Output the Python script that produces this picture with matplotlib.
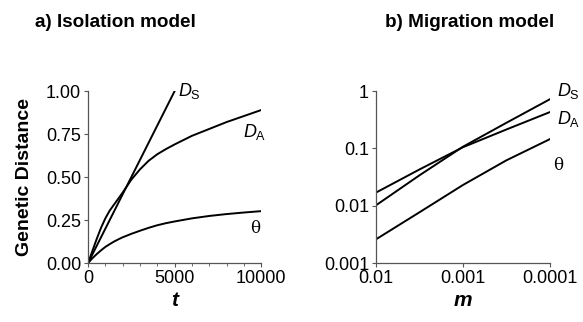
import numpy as np
import matplotlib.pyplot as plt

plt.rcParams['font.family'] = ['Liberation Sans', 'DejaVu Sans']
plt.rcParams['mathtext.fontset'] = 'custom'
plt.rcParams['mathtext.rm'] = 'Liberation Sans'
plt.rcParams['mathtext.it'] = 'Liberation Sans:italic'

# isolation model: distance vs time
t = [0, 250, 500, 750, 1000, 1250, 1500, 1750, 2000, 2500, 3000, 3500, 4000, 4500,
     5000, 6000, 7000, 8000, 9000, 10000]
ds_t = [0, 5000]
ds_iso = [0.0, 1.0]
da_iso = [0, 0.07, 0.14, 0.205, 0.26, 0.305, 0.34, 0.375, 0.41, 0.485, 0.545, 0.595,
          0.633, 0.663, 0.69, 0.74, 0.78, 0.82, 0.855, 0.89]
theta_iso = [0, 0.028, 0.052, 0.074, 0.094, 0.11, 0.125, 0.138, 0.15, 0.17, 0.188,
             0.205, 0.22, 0.232, 0.242, 0.26, 0.274, 0.285, 0.294, 0.302]

# migration model: distance vs migration rate
m = [0.01, 0.00316, 0.001, 0.000316, 0.0001]
ds_mig = [0.0102, 0.034, 0.107, 0.28, 0.72]
da_mig = [0.017, 0.043, 0.105, 0.214, 0.43]
theta_mig = [0.0026, 0.0077, 0.023, 0.062, 0.145]

fig = plt.figure(figsize=(5.83, 3.22), dpi=100)
ax1 = fig.add_axes([0.151, 0.183, 0.297, 0.534])
ax2 = fig.add_axes([0.645, 0.183, 0.298, 0.534])

lw = 1.4
for ax in (ax1, ax2):
    for s in ('top', 'right'):
        ax.spines[s].set_visible(False)
    for s in ('left', 'bottom'):
        ax.spines[s].set_color('#555555')
        ax.spines[s].set_linewidth(0.9)
    ax.tick_params(labelsize=13, length=3, width=0.8, color='#555555', pad=2)

ax1.plot(ds_t, ds_iso, color='black', lw=lw)
ax1.plot(t, da_iso, color='black', lw=lw)
ax1.plot(t, theta_iso, color='black', lw=lw)
ax1.set_xlim(0, 10000)
ax1.set_ylim(0, 1.0)
ax1.set_xticks([0, 5000, 10000])
ax1.set_xticks(np.arange(0, 10001, 1000), minor=True)
ax1.tick_params(which='minor', length=2, width=0.6, color='#555555')
ax1.set_yticks([0, 0.25, 0.5, 0.75, 1.0])
ax1.set_yticklabels(['0.00', '0.25', '0.50', '0.75', '1.00'])
ax1.set_ylabel('Genetic Distance', fontsize=14, fontweight='bold', labelpad=9)
ax1.set_xlabel('t', fontsize=15, fontweight='bold', style='italic', labelpad=3)
ax1.text(5200, 1.0, r'$D_\mathrm{S}$', fontsize=13, va='center')
ax1.text(8950, 0.76, r'$D_\mathrm{A}$', fontsize=13, va='center')
ax1.text(9350, 0.20, 'θ', fontsize=12, va='center', family='DejaVu Serif')

ax2.plot(m, ds_mig, color='black', lw=lw)
ax2.plot(m, da_mig, color='black', lw=lw)
ax2.plot(m, theta_mig, color='black', lw=lw)
ax2.set_xscale('log')
ax2.set_yscale('log')
ax2.set_xlim(0.01, 0.0001)
ax2.set_ylim(0.001, 1)
ax2.set_xticks([0.01, 0.001, 0.0001])
ax2.set_xticklabels(['0.01', '0.001', '0.0001'])
ax2.set_yticks([0.001, 0.01, 0.1, 1])
ax2.set_yticklabels(['0.001', '0.01', '0.1', '1'])
ax2.minorticks_off()
ax2.set_xlabel('m', fontsize=15, fontweight='bold', style='italic', labelpad=3)
ax2.text(1.04, 1.0, r'$D_\mathrm{S}$', fontsize=13, va='center', transform=ax2.transAxes)
ax2.text(1.04, 0.84, r'$D_\mathrm{A}$', fontsize=13, va='center', transform=ax2.transAxes)
ax2.text(1.02, 0.57, 'θ', fontsize=12, va='center', family='DejaVu Serif',
         transform=ax2.transAxes)

fig.text(0.06, 0.93, 'a) Isolation model', fontsize=13.6, fontweight='bold', va='center')
fig.text(0.66, 0.93, 'b) Migration model', fontsize=13.6, fontweight='bold', va='center')

fig.savefig('out.png', dpi=100)
